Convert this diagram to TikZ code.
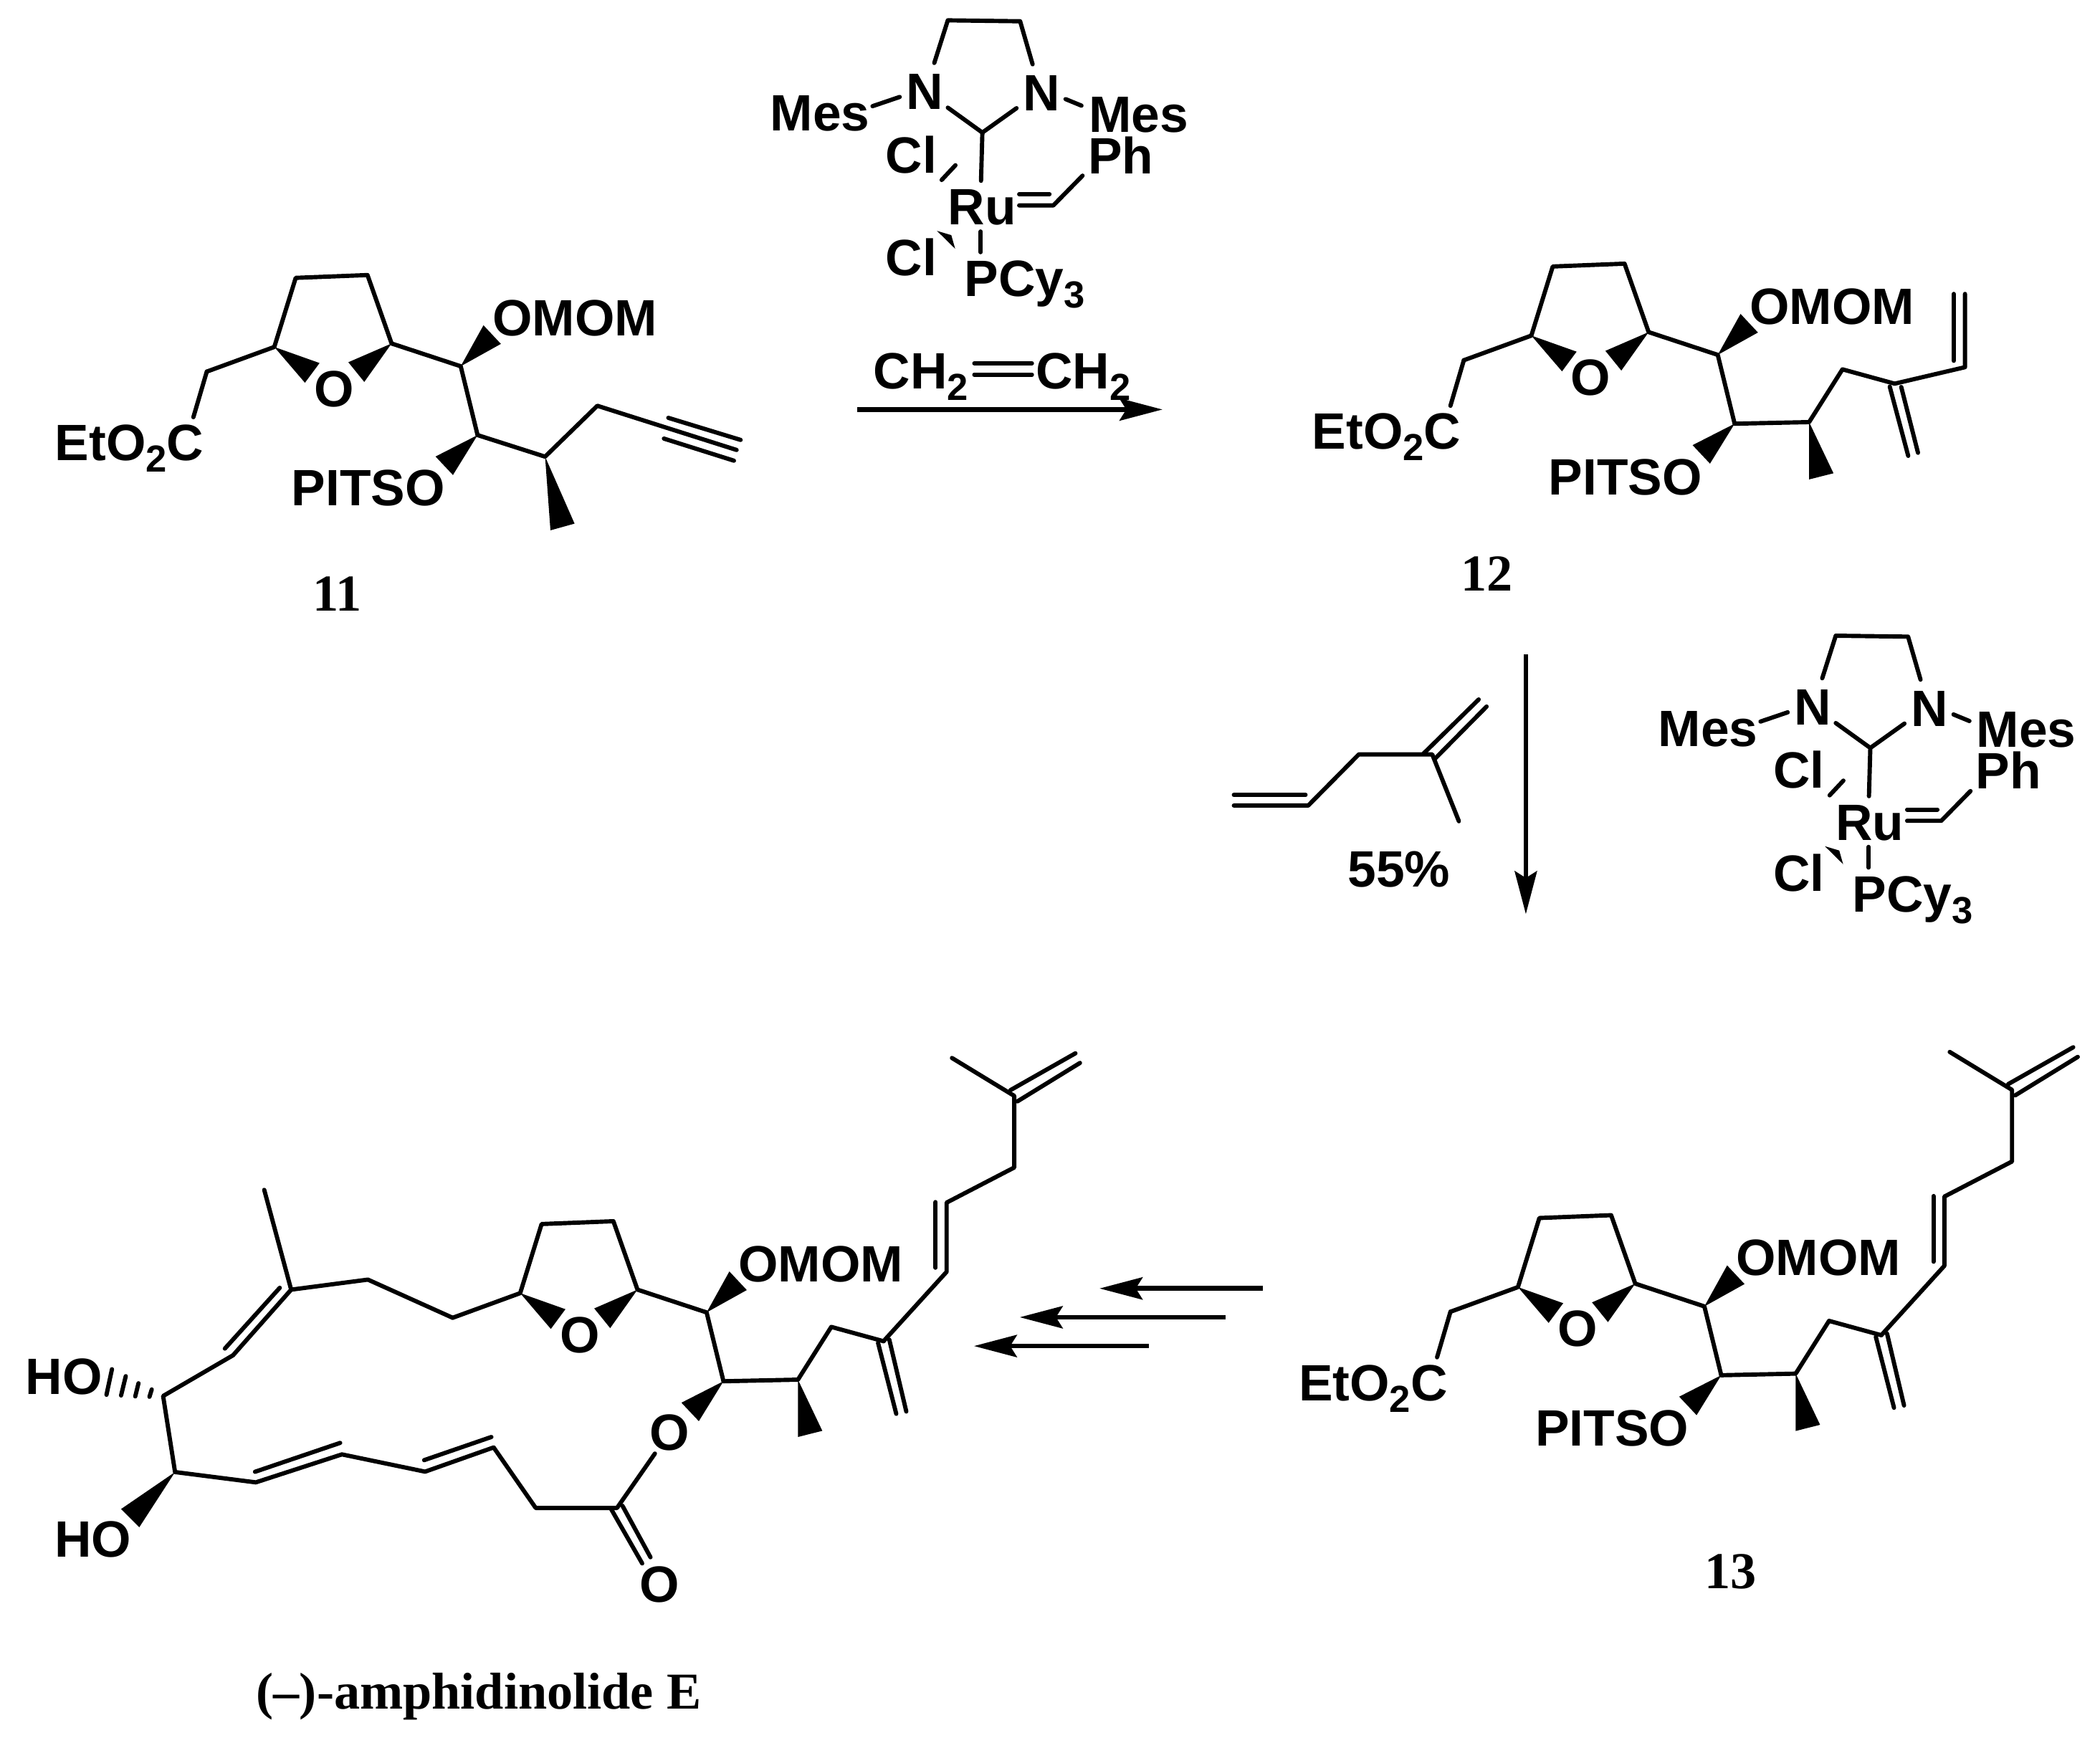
\documentclass[tikz,border=0pt]{standalone}
\usepackage{fontspec}
\setmainfont{Liberation Sans}
\newfontfamily\cptfont{Liberation Serif}
\usetikzlibrary{arrows.meta}

\newcommand{\chemsub}[1]{\raisebox{-0.085cm}{\fontsize{8}{8}\selectfont #1}}

% ring, two wedges and the OMOM arm
\newcommand{\thfcore}[1]{
	\draw[bond] (338,984) -- (388.4,965.6) -- (404.4,914) -- (458,911.9) -- (476,963) -- (527.6,980) -- (540.2,1031.4);
	\fill (388.4,965.6) -- (422.2,977.6) -- (411.3,992.3) -- cycle;
	\fill (476,963) -- (443.7,977) -- (455.6,991.7) -- cycle;
	\fill (527.6,980) -- (544.6,949.4) -- (557.6,963.3) -- cycle;
	\fill (540.2,1031.4) -- (508.8,1047.4) -- (521.8,1061.2) -- cycle;
	\node[lab] (ringo#1) at (419.8,1009) {O};
	\node[lab] (omom#1) at (553.2,956) {OMOM};
}
\newcommand{\esterarm}[1]{
	\draw[bond] (338,984) -- (328,1018);
	\node[lab] (ester#1) at (226.6,1049.5) {EtO\chemsub{2}C};
	\node[lab] (pitso#1) at (403.2,1083.3) {PITSO};
}
\newcommand{\tailarm}{
	\draw[bond] (540.2,1031.4) -- (595.8,1030.2) -- (620.7,990.8) -- (659.7,1001.5);
	\fill (595.8,1030.2) -- (595.8,1073) -- (614,1068.4) -- cycle;
	\draw[bond] (655.6,1002.7) -- (669.2,1055.7);
	\draw[bond] (664,1000.3) -- (676.7,1054);
}
\newcommand{\dienetail}{
	\draw[bond] (659.7,1001.5) -- (706.8,949.7) -- (706.8,898) -- (757.3,871.8) -- (757.3,818.3) -- (710.8,790);
	\draw[bond] (698.6,946.6) -- (698.6,897.6);
	\draw[bond] (754.5,814) -- (803,786.5);
	\draw[bond] (759.7,822.4) -- (806.4,793.7);
}
\newcommand{\rucat}[1]{
	\draw[bond] (697.6,47) -- (707.7,15.2) -- (761.7,15.9) -- (771,48);
	\draw[bond] (651.5,79.3) -- (671.8,72.4);
	\draw[bond] (795.6,74) -- (807.5,78.9);
	\draw[bond] (707.7,80.4) -- (733.5,99) -- (759,80.8);
	\draw[bond] (733.5,99) -- (732.5,135);
	\draw[bond] (703.1,134.4) -- (713.4,123.4);
	\draw[bond] (761,145) -- (783.6,145);
	\draw[bond] (761,153.4) -- (786.5,153.4) -- (808.3,131.2);
	\fill (699.6,172.4) -- (710.3,175.6) -- (713.2,185.8) -- cycle;
	\draw[bond] (732.3,172.9) -- (732.3,188.3);
	\node[lab] (mesa#1) at (577,96.7) {Mes};
	\node[lab] (na#1) at (678.5,80.8) {N};
	\node[lab] (nb#1) at (765.7,81.9) {N};
	\node[lab] (mesb#1) at (814.7,97.6) {Mes};
	\node[lab] (cla#1) at (663,128) {Cl};
	\node[lab] (ph#1) at (814.2,128.6) {Ph};
	\node[lab] (ru#1) at (709.6,167) {Ru};
	\node[lab] (clb#1) at (663,204.8) {Cl};
	\node[lab] (pcy#1) at (722,220.5) {PCy\chemsub{3}};
}

\begin{document}
\begin{tikzpicture}
	[x=0.01cm, y=-0.01cm,
	lab/.style={inner sep=0pt, anchor=base west, xshift=-0.025cm, yshift=-0.01cm, font=\fontsize{10.85}{12}\selectfont\bfseries},
	bond/.style={line width=0.9pt, line cap=round, line join=round},
	rxn/.style={line width=1pt, -{Stealth[length=0.32cm, width=0.165cm, inset=0.05cm]}},
	cpd/.style={inner sep=0pt, anchor=base, font=\fontsize{11}{12}\selectfont\cptfont\bfseries}]
	\useasboundingbox (0,0) rectangle (1568,1301);

	% 11
	\begin{scope}[shift={(-183.6,-706.5)}]
		\thfcore{A}
		\esterarm{A}
	\end{scope}
	\draw[bond] (356.6,324.9) -- (407,341) -- (446,303) -- (550,336);
	\fill (407,341) -- (411,396) -- (429,391) -- cycle;
	\draw[bond] (499,312) -- (553,328.5);
	\draw[bond] (495.7,327.5) -- (548,344);
	\node[cpd] (cpda) at (252,456) {11};

	% first catalyst and ethylene
	\rucat{A}
	\node[lab] (etha) at (654,289.5) {CH\chemsub{2}};
	\node[lab] (ethb) at (775.3,289.5) {CH\chemsub{2}};
	\coordinate (dba) at (727.5,271.3);
	\coordinate (dbb) at (770.5,271.3);
	\coordinate (dbc) at (727.5,279.7);
	\coordinate (dbd) at (770.5,279.7);
	\draw[bond] (dba) -- (dbb);
	\draw[bond] (dbc) -- (dbd);
	\coordinate (arra) at (640.3,305.8);
	\coordinate (arrb) at (868,305.8);
	\draw[rxn] (arra) -- (arrb);

	% 12
	\begin{scope}[shift={(755,-715)}]
		\thfcore{B}
		\esterarm{B}
		\draw[bond] (540.2,1031.4) -- (595.8,1030.2) -- (620.7,990.8) -- (659.7,1001.5);
		\fill (595.8,1030.2) -- (595.8,1073) -- (614,1068.4) -- cycle;
	\end{scope}
	\draw[bond] (1414.7,286.5) -- (1467.2,274.2) -- (1467.2,219.5);
	\draw[bond] (1458.8,269.4) -- (1458.8,219.5);
	\draw[bond] (1411,288.7) -- (1424.8,340.4);
	\draw[bond] (1419.6,289) -- (1432.1,338.1);
	\node[cpd] (cpdb) at (1110,441) {12};

	% second step
	\coordinate (arrc) at (1139.3,488.7);
	\coordinate (arrd) at (1139.3,682.6);
	\draw[rxn] (arrc) -- (arrd);
	\draw[bond] (921.3,593.6) -- (974.8,593.6);
	\draw[bond] (921.3,601.5) -- (976.8,601.5) -- (1014.6,563.3) -- (1069.4,563.3) -- (1089.3,613.2);
	\draw[bond] (1062.8,562.8) -- (1104.1,522.3);
	\draw[bond] (1071.1,566.9) -- (1110,527.6);
	\node[lab] (yield) at (1008.2,661.2) {55\%};
	\begin{scope}[shift={(663,459.5)}]
		\rucat{B}
	\end{scope}

	% 13
	\begin{scope}[shift={(745,-4.5)}]
		\thfcore{C}
		\esterarm{C}
		\tailarm
		\dienetail
	\end{scope}
	\node[cpd] (cpdc) at (1292,1186) {13};

	% three arrows
	\coordinate (arre) at (943,962.1);
	\coordinate (arrf) at (821,962.1);
	\coordinate (arrg) at (915,983.6);
	\coordinate (arrh) at (761.4,983.6);
	\coordinate (arri) at (857.6,1005.1);
	\coordinate (arrj) at (727.2,1005.1);
	\draw[rxn] (arre) -- (arrf);
	\draw[rxn] (arrg) -- (arrh);
	\draw[rxn] (arri) -- (arrj);

	% macrolide
	\thfcore{D}
	\tailarm
	\dienetail
	\draw[bond] (338,984) -- (274.7,955.5) -- (217.4,963) -- (197.3,888.5);
	\draw[bond] (217.4,963) -- (174,1012) -- (121.8,1042.4) -- (130.7,1099.2) -- (191,1106.9) -- (255.3,1086) -- (317.4,1098.9) -- (368.6,1080.8) -- (400,1126) -- (460.7,1126) -- (489,1085.4);
	\draw[bond] (208.9,961.6) -- (167.9,1007);
	\draw[bond] (190.4,1099) -- (254,1077.4);
	\draw[bond] (316.7,1090.3) -- (366.9,1073);
	\draw[bond] (456.3,1126.8) -- (479.5,1167.4);
	\draw[bond] (464.8,1124.4) -- (485.7,1162.8);
	\draw[bond] (83.6,1022.4) -- (79.5,1041.5);
	\draw[bond] (93.9,1027.6) -- (90.4,1042);
	\draw[bond] (103.4,1032.9) -- (101,1042.7);
	\draw[bond] (113.3,1037.5) -- (111.6,1043);
	\fill (130.7,1099.2) -- (90.4,1126.8) -- (104,1140.4) -- cycle;
	\node[lab] (hoa) at (21,1040) {HO};
	\node[lab] (hob) at (42.7,1161.9) {HO};
	\node[lab] (oxa) at (487,1082) {O};
	\node[lab] (oxb) at (479.5,1195.6) {O};
	\node[cpd] (cpdd) at (357.5,1276) {(–)-amphidinolide E};
\end{tikzpicture}
\end{document}
